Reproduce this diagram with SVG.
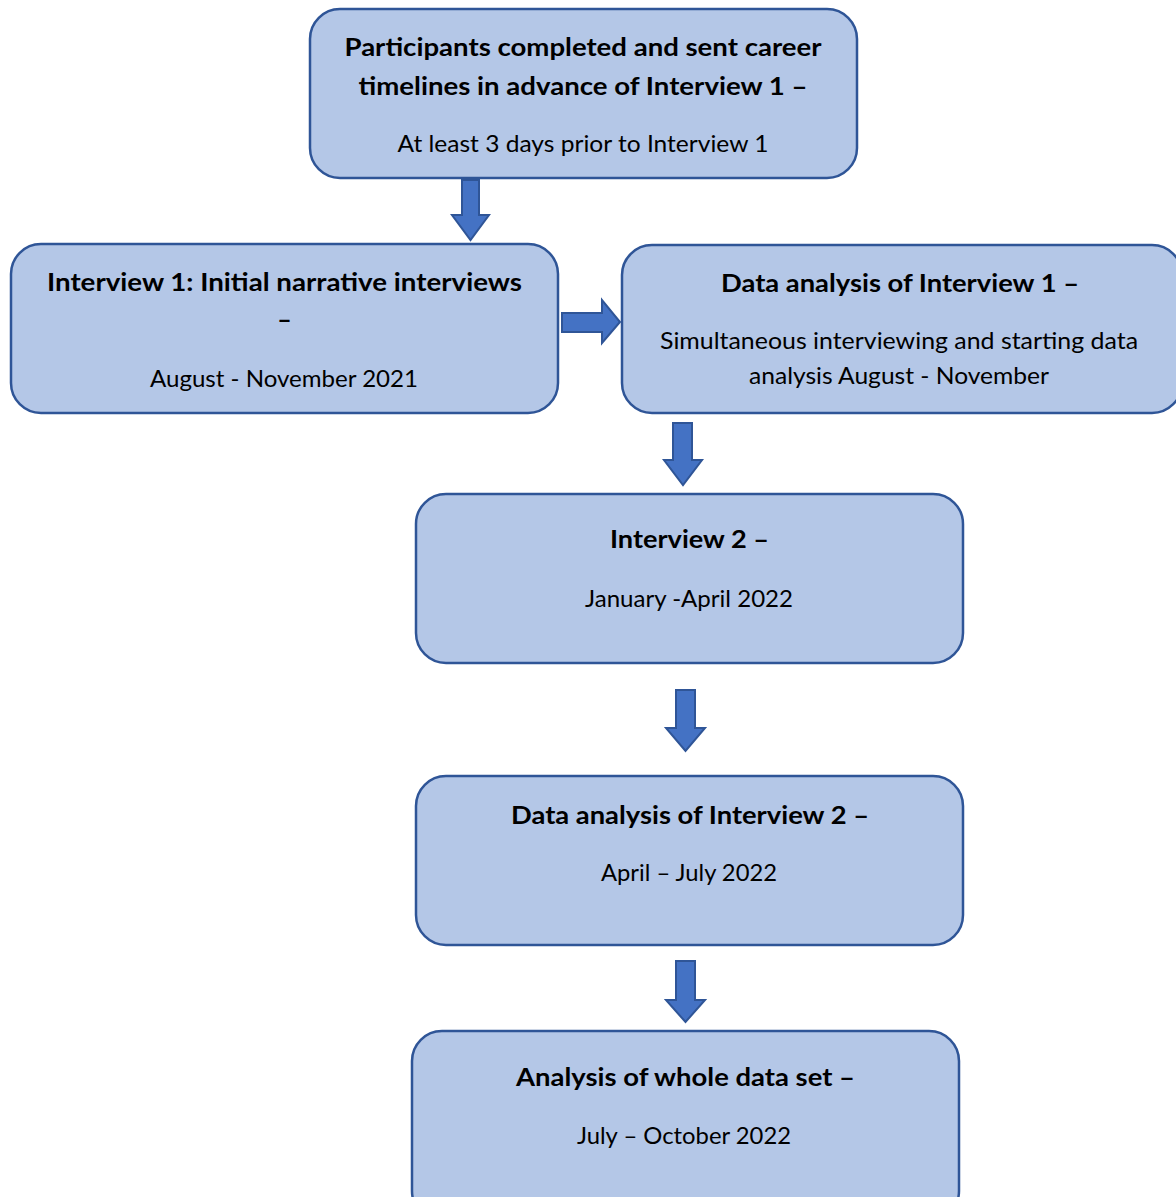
<svg xmlns="http://www.w3.org/2000/svg" width="1176" height="1197" viewBox="0 0 1176 1197">
<style>
.box{fill:#b4c7e7;stroke:#2f5597;stroke-width:2.5}
.arr{fill:#4472c4;stroke:#2f5597;stroke-width:2}
text{font-family:Lato,"Open Sans","Liberation Sans",sans-serif;fill:#000;text-anchor:middle}
.b{font-weight:bold;font-size:25px}
.r{font-size:23px}
</style>
<rect width="1176" height="1197" fill="#fff"/>
<g id="connectors">
<polygon class="arr" points="462,180 479,180 479,215 489,215 470.5,240 452,215 462,215"/>
<polygon class="arr" points="562,313 602,313 602,300 620,322 602,343 602,332 562,332"/>
<polygon class="arr" points="673,423 692,423 692,460 702,460 683,485 664,460 673,460"/>
<polygon class="arr" points="676,690 695,690 695,728 705,728 685.5,751 666,728 676,728"/>
<polygon class="arr" points="676,961 695,961 695,1000 705,1000 685.5,1022 666,1000 676,1000"/>
</g>
<g id="n1">
<rect class="box" x="310" y="9" width="547" height="169" rx="30"/>
<text class="b" x="583" y="56" textLength="477" lengthAdjust="spacingAndGlyphs">Participants completed and sent career</text>
<text class="b" x="583" y="95" textLength="449" lengthAdjust="spacingAndGlyphs">timelines in advance of Interview 1 –</text>
<text class="r" x="583" y="152" textLength="371" lengthAdjust="spacingAndGlyphs">At least 3 days prior to Interview 1</text>
</g>
<g id="n2">
<rect class="box" x="11" y="244" width="547" height="169" rx="30"/>
<text class="b" x="284.5" y="291" textLength="475" lengthAdjust="spacingAndGlyphs">Interview 1: Initial narrative interviews</text>
<text class="b" x="284.5" y="328">–</text>
<text class="r" x="284" y="387" textLength="268" lengthAdjust="spacingAndGlyphs">August - November 2021</text>
</g>
<g id="n3">
<rect class="box" x="622" y="245" width="560" height="168" rx="30"/>
<text class="b" x="900" y="292" textLength="358" lengthAdjust="spacingAndGlyphs">Data analysis of Interview 1 –</text>
<text class="r" x="899" y="349" textLength="478" lengthAdjust="spacingAndGlyphs">Simultaneous interviewing and starting data</text>
<text class="r" x="899" y="384" textLength="300" lengthAdjust="spacingAndGlyphs">analysis August - November</text>
</g>
<g id="n4">
<rect class="box" x="416" y="494" width="547" height="169" rx="30"/>
<text class="b" x="689.5" y="548" textLength="159" lengthAdjust="spacingAndGlyphs">Interview 2 –</text>
<text class="r" x="689" y="607" textLength="208" lengthAdjust="spacingAndGlyphs">January -April 2022</text>
</g>
<g id="n5">
<rect class="box" x="416" y="776" width="547" height="169" rx="30"/>
<text class="b" x="690" y="824" textLength="358" lengthAdjust="spacingAndGlyphs">Data analysis of Interview 2 –</text>
<text class="r" x="689" y="881" textLength="176" lengthAdjust="spacingAndGlyphs">April – July 2022</text>
</g>
<g id="n6">
<rect class="box" x="412" y="1031" width="547" height="190" rx="30"/>
<text class="b" x="685.5" y="1086" textLength="339" lengthAdjust="spacingAndGlyphs">Analysis of whole data set –</text>
<text class="r" x="684" y="1144" textLength="214" lengthAdjust="spacingAndGlyphs">July – October 2022</text>
</g>
</svg>
